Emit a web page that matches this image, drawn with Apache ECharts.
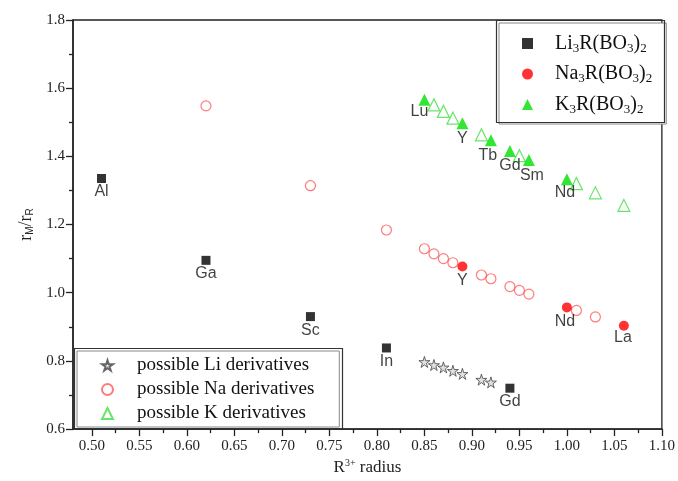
<!DOCTYPE html>
<html>
<head>
<meta charset="utf-8">
<script src="https://cdn.jsdelivr.net/npm/echarts@6/dist/echarts.min.js"></script>
<style>html,body{margin:0;padding:0;background:#fff}#c{width:678px;height:481px}</style>
</head>
<body>
<div id="c"></div>
<script>
// ---- data ----
var liX = [0.51, 0.62, 0.73, 0.81, 0.94];
var liY = [1.335, 1.095, 0.93, 0.838, 0.72];
var liNames = ['Al', 'Ga', 'Sc', 'In', 'Gd'];

var naX = [0.89, 1.00, 1.06];
var naY = [1.077, 0.957, 0.903];
var naNames = ['Y', 'Nd', 'La'];

var kX = [0.85, 0.89, 0.92, 0.94, 0.96, 1.00];
var kY = [1.566, 1.497, 1.447, 1.416, 1.389, 1.333];
var kNames = ['Lu', 'Y', 'Tb', 'Gd', 'Sm', 'Nd'];

var possLiX = [0.85, 0.86, 0.87, 0.88, 0.89, 0.91, 0.92];
var possLiY = [0.797, 0.788, 0.781, 0.771, 0.762, 0.745, 0.737];

var possNaX = [0.62, 0.73, 0.81, 0.85, 0.86, 0.87, 0.88, 0.91, 0.92, 0.94, 0.95, 0.96, 1.01, 1.03];
var possNaY = [1.548, 1.314, 1.184, 1.129, 1.114, 1.100, 1.088, 1.052, 1.041, 1.018, 1.007, 0.996, 0.948, 0.929];

var possKX = [0.86, 0.87, 0.88, 0.91, 0.95, 1.01, 1.03, 1.06];
var possKY = [1.551, 1.532, 1.512, 1.463, 1.402, 1.320, 1.293, 1.256];

var xTicks = [0.50, 0.55, 0.60, 0.65, 0.70, 0.75, 0.80, 0.85, 0.90, 0.95, 1.00, 1.05, 1.10];
var xMinorTicks = [0.525, 0.575, 0.625, 0.675, 0.725, 0.775, 0.825, 0.875, 0.925, 0.975, 1.025, 1.075];
var yTicks = [0.6, 0.8, 1.0, 1.2, 1.4, 1.6, 1.8];

var seriesNames = ['Li3R(BO3)2', 'Na3R(BO3)2', 'K3R(BO3)2',
  'possible Li derivatives', 'possible Na derivatives', 'possible K derivatives'];
// ---------------

function pts(xs, ys, names) {
  return xs.map(function (x, i) {
    var d = { value: [x, ys[i]] };
    if (names) d.name = names[i];
    return d;
  });
}
var labelTweaks = { 'K3R(BO3)2': { 'Lu': [-5, -3], 'Tb': [-3, 0], 'Sm': [3, 0], 'Nd': [-2, -2] },
                    'Na3R(BO3)2': { 'Nd': [-2, 0], 'La': [-1, -2] } };
function labeled(xs, ys, names, sname) {
  return pts(xs, ys, names).map(function (d) {
    var t = labelTweaks[sname] && labelTweaks[sname][d.name];
    if (t) d.label = { offset: t };
    return d;
  });
}

var serif = 'Liberation Serif';
var sans = 'Liberation Sans';
var ptLabel = { show: true, position: 'bottom', distance: 1, formatter: '{b}',
  fontFamily: sans, fontSize: 16, color: '#111' };

var starPath = 'path://M50,0 L61,35 L98,35 L68,57 L79,91 L50,70 L21,91 L32,57 L2,35 L39,35 Z';

var chemRich = {
  n: { fontFamily: serif, fontSize: 20, color: '#111', lineHeight: 22 },
  s: { fontFamily: serif, fontSize: 13, color: '#111', padding: [10, 0, 0, 0], lineHeight: 22 }
};
function chem(name) {
  return name.replace(/(\d)/g, '}{s|$1}{n|').replace(/^/, '{n|') + '}';
}

var chart = echarts.init(document.getElementById('c'), null, { renderer: 'canvas' });
chart.setOption({
  animation: false,
  backgroundColor: '#fff',
  grid: { left: 73, right: 15, top: 20, bottom: 51, show: true, borderColor: '#222', borderWidth: 1.3, backgroundColor: 'transparent' },
  xAxis: [{
    type: 'value', min: 0.48, max: 1.10, position: 'bottom',
    axisLine: { show: true, lineStyle: { color: '#222', width: 1.5 } },
    axisTick: { show: true, length: 7, lineStyle: { color: '#222', width: 1.3 }, customValues: xTicks },
    axisLabel: { show: true, customValues: xTicks, formatter: function (v) { return v.toFixed(2); },
      fontFamily: serif, fontSize: 15, color: '#222', margin: 9 },
    splitLine: { show: false },
    name: '{n|R}{sup|3+}{n| radius}', nameLocation: 'middle', nameGap: 28,
    nameTextStyle: { rich: {
      n: { fontFamily: serif, fontSize: 17, color: '#222' },
      sup: { fontFamily: serif, fontSize: 10, color: '#222', padding: [0, 0, 9, 0] } } }
  }, {
    type: 'value', min: 0.48, max: 1.10, position: 'bottom',
    axisLine: { show: false },
    axisTick: { show: true, length: 4, lineStyle: { color: '#222', width: 1.3 }, customValues: xMinorTicks },
    axisLabel: { show: false, customValues: xMinorTicks },
    splitLine: { show: false }
  }],
  yAxis: {
    type: 'value', min: 0.6, max: 1.8, interval: 0.2,
    axisLine: { show: true, lineStyle: { color: '#222', width: 1.5 } },
    axisTick: { show: true, length: 7, lineStyle: { color: '#222', width: 1.3 } },
    minorTick: { show: true, splitNumber: 2, length: 4, lineStyle: { color: '#222', width: 1.3 } },
    axisLabel: { formatter: function (v) { return v.toFixed(1); }, fontFamily: serif, fontSize: 15, color: '#222', margin: 8 },
    splitLine: { show: false },
    name: '{n|r}{s|M}{n|/r}{s|R}', nameLocation: 'middle', nameGap: 36, nameRotate: 90,
    nameTextStyle: { rich: {
      n: { fontFamily: serif, fontSize: 18, color: '#222' },
      s: { fontFamily: sans, fontSize: 10, color: '#222', padding: [9, 0, 0, 0] } } }
  },
  graphic: [
    { type: 'rect', silent: true, z: 5, shape: { x: 496.5, y: 20.5, width: 168, height: 102 },
      style: { fill: 'none', stroke: '#333', lineWidth: 1.2 } },
    { type: 'rect', silent: true, z: 5, shape: { x: 74.5, y: 348.5, width: 268, height: 80 },
      style: { fill: 'none', stroke: '#333', lineWidth: 1.2 } }
  ],
  legend: [{
    data: seriesNames.slice(0, 3), orient: 'vertical', left: 499, top: 23,
    padding: [9, 14, 8, 23], itemGap: 7.5, itemWidth: 11, itemHeight: 11,
    borderColor: '#888', borderWidth: 1, backgroundColor: '#fff',
    formatter: chem,
    textStyle: { padding: [0, 0, 0, 17], rich: chemRich }
  }, {
    data: seriesNames.slice(3), orient: 'vertical', left: 77, top: 351,
    padding: [5, 25, 4, 24], itemGap: 5, itemWidth: 11, itemHeight: 11,
    borderColor: '#888', borderWidth: 1, backgroundColor: '#fff',
    textStyle: { fontFamily: serif, fontSize: 19, color: '#111', lineHeight: 19, padding: [0, 0, 0, 19] }
  }],
  series: [{
    name: seriesNames[3], type: 'scatter', data: pts(possLiX, possLiY),
    symbol: starPath, symbolSize: 11,
    itemStyle: { color: '#d8d8d8', borderColor: '#444', borderWidth: 1 }
  }, {
    name: seriesNames[4], type: 'scatter', data: pts(possNaX, possNaY),
    symbol: 'circle', symbolSize: 10,
    itemStyle: { color: 'rgba(255,255,255,0)', borderColor: '#ff5a5a', borderWidth: 1.2 }
  }, {
    name: seriesNames[5], type: 'scatter', data: pts(possKX, possKY),
    symbol: 'triangle', symbolSize: 12,
    itemStyle: { color: 'rgba(255,255,255,0)', borderColor: '#44e044', borderWidth: 1.2 }
  }, {
    name: seriesNames[0], type: 'scatter', data: labeled(liX, liY, liNames, seriesNames[0]),
    symbol: 'rect', symbolSize: 9, itemStyle: { color: '#000' }, label: ptLabel
  }, {
    name: seriesNames[1], type: 'scatter', data: labeled(naX, naY, naNames, seriesNames[1]),
    symbol: 'circle', symbolSize: 10, itemStyle: { color: '#ff0000' }, label: ptLabel
  }, {
    name: seriesNames[2], type: 'scatter', data: labeled(kX, kY, kNames, seriesNames[2]),
    symbol: 'triangle', symbolSize: 12, itemStyle: { color: '#00e000' }, label: ptLabel
  }]
});
</script>
</body>
</html>
